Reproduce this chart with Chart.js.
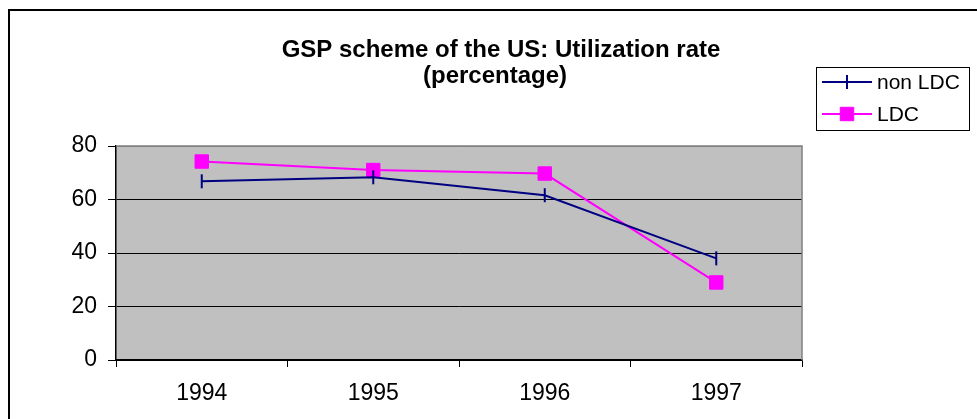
<!DOCTYPE html>
<html>
<head>
<meta charset="utf-8">
<script src="https://cdn.jsdelivr.net/npm/chart.js@4/dist/chart.umd.min.js"></script>
<style>
  body { margin: 0; background: #fff; }
  #wrap { width: 977px; height: 419px; }
</style>
</head>
<body>
<div id="wrap"><canvas id="utilChart" width="977" height="419"></canvas></div>
<script>
const years = ["1994", "1995", "1996", "1997"];
const nonLdcRate = [66.8, 68.3, 61.6, 38.0];
const ldcRate = [74.2, 71.0, 69.7, 29.0];
const titleLines = ["GSP scheme of the US: Utilization rate", "(percentage)"];
const yTicks = [0, 20, 40, 60, 80];

const FONT = "'Liberation Sans', Arial, sans-serif";

// frame, grey plot area, title and legend (Excel style)
const excelLook = {
  id: "excelLook",
  beforeDraw(chart) {
    const { ctx, chartArea: a } = chart;
    ctx.save();
    ctx.fillStyle = "#fff";
    ctx.fillRect(0, 0, chart.width, chart.height);
    ctx.strokeStyle = "#000";
    ctx.lineWidth = 2;
    ctx.strokeRect(9, 10, 1200, 800);
    ctx.fillStyle = "#c0c0c0";
    ctx.fillRect(a.left, a.top, a.right - a.left, a.bottom - a.top);
    ctx.restore();
  },
  afterDatasetsDraw(chart) {
    const { ctx, chartArea: a } = chart;
    ctx.save();
    // top/right border of plot area
    ctx.strokeStyle = "#808080";
    ctx.lineWidth = 1.5;
    ctx.beginPath();
    ctx.moveTo(a.left, a.top);
    ctx.lineTo(a.right, a.top);
    ctx.lineTo(a.right, a.bottom);
    ctx.stroke();

    // title
    ctx.fillStyle = "#000";
    ctx.font = "bold 24px " + FONT;
    ctx.textAlign = "center";
    ctx.textBaseline = "alphabetic";
    ctx.fillText(titleLines[0], 501, 57);
    ctx.fillText(titleLines[1], 495, 83);

    // legend
    ctx.strokeStyle = "#000";
    ctx.lineWidth = 1;
    ctx.strokeRect(816.5, 67.5, 153, 63);
    ctx.font = "21px " + FONT;
    ctx.textAlign = "left";
    ctx.textBaseline = "middle";
    const rows = [82, 114];
    chart.data.datasets.forEach((ds, i) => {
      const y = rows[i];
      ctx.strokeStyle = ds.borderColor;
      ctx.lineWidth = 2;
      ctx.beginPath();
      ctx.moveTo(822, y);
      ctx.lineTo(872, y);
      ctx.stroke();
      ctx.fillStyle = ds.pointBackgroundColor;
      ctx.strokeStyle = ds.pointBorderColor;
      ctx.lineWidth = ds.pointBorderWidth;
      Chart.helpers.drawPoint(ctx, {
        pointStyle: ds.pointStyle,
        radius: ds.pointRadius,
        rotation: ds.pointRotation || 0,
        borderWidth: ds.pointBorderWidth
      }, 847, y);
      ctx.fillStyle = "#000";
      ctx.fillText(ds.label, 877, y + 1);
    });
    ctx.restore();
  }
};

new Chart(document.getElementById("utilChart"), {
  type: "line",
  data: {
    labels: years,
    datasets: [
      {
        label: "non LDC",
        data: nonLdcRate,
        borderColor: "#000080",
        backgroundColor: "#000080",
        borderWidth: 2,
        pointStyle: "line",
        pointRotation: 90,
        pointRadius: 7,
        pointHoverRadius: 7,
        pointBorderWidth: 2,
        pointBorderColor: "#000080",
        pointBackgroundColor: "#000080",
        tension: 0
      },
      {
        label: "LDC",
        data: ldcRate,
        borderColor: "#ff00ff",
        backgroundColor: "#ff00ff",
        borderWidth: 2,
        pointStyle: "rect",
        pointRadius: 9.5,
        pointHoverRadius: 9.5,
        pointBorderWidth: 1,
        pointBorderColor: "#ff00ff",
        pointBackgroundColor: "#ff00ff",
        tension: 0
      }
    ]
  },
  options: {
    responsive: false,
    animation: false,
    layout: {
      padding: { left: 0, right: 175, top: 146, bottom: 0 }
    },
    scales: {
      x: {
        offset: true,
        afterFit: (scale) => { scale.height = 59; },
        grid: {
          offset: true,
          drawOnChartArea: false,
          drawTicks: true,
          tickLength: 7,
          tickColor: "#000",
          tickWidth: 1
        },
        border: { color: "#000", width: 1.5 },
        ticks: {
          color: "#000",
          font: { family: FONT, size: 23 },
          padding: 13,
          maxRotation: 0
        }
      },
      y: {
        min: 0,
        max: 80,
        afterFit: (scale) => { scale.width = 116; },
        afterBuildTicks: (scale) => {
          scale.ticks = yTicks.map((v) => ({ value: v }));
        },
        grid: {
          color: (c) => (c.tick && c.tick.value === 80 ? "#808080" : "#000"),
          lineWidth: 1,
          tickLength: 8,
          tickColor: "#000"
        },
        border: { color: "#000", width: 1.5 },
        ticks: {
          color: "#000",
          font: { family: FONT, size: 23 },
          padding: 11
        }
      }
    },
    plugins: {
      legend: { display: false },
      title: { display: false },
      tooltip: { enabled: false }
    }
  },
  plugins: [excelLook]
});
</script>
</body>
</html>
